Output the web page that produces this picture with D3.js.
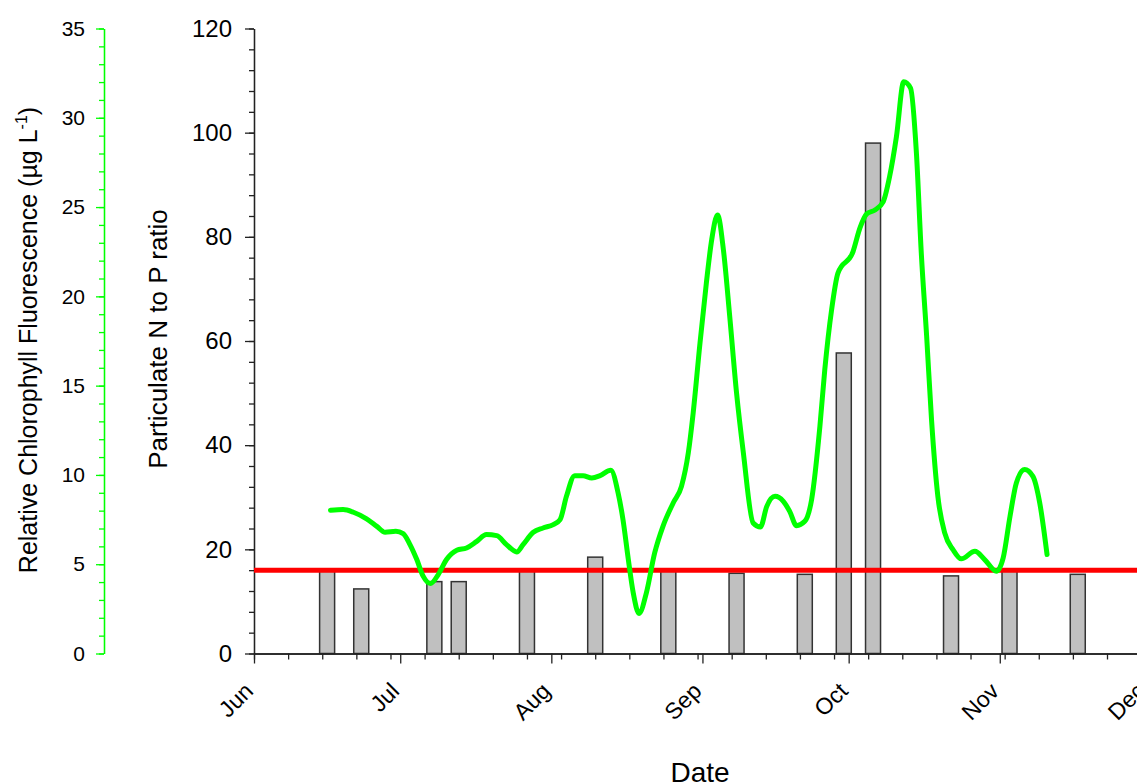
<!DOCTYPE html>
<html>
<head>
<meta charset="utf-8">
<script src="https://cdn.jsdelivr.net/npm/d3@7"></script>
<style>
  body { margin: 0; background: #fff; }
  svg text { font-family: "Liberation Sans", Arial, sans-serif; fill: #000; }
</style>
</head>
<body>
<div id="chart"></div>
<script>
// sample dates + particulate N:P (bars)
var npDates = ["2013-06-16","2013-06-23","2013-07-08","2013-07-13","2013-07-27","2013-08-10","2013-08-25",
               "2013-09-08","2013-09-22","2013-09-30","2013-10-06","2013-10-22","2013-11-03","2013-11-17"];
var npRatio = [16.0, 12.4, 13.8, 13.8, 16.0, 18.5, 16.0, 15.4, 15.2, 57.7, 98.0, 14.9, 16.0, 15.2];

// redfield ratio reference
var redfield = 16;

// chlorophyll fluorescence trace, days since 1 June
var chlDay = [15.7,18.3,20.4,23.1,25.2,26.9,29.1,30.6,32.0,33.4,34.7,36.2,37.8,39.5,41.6,43.6,45.7,47.7,49.8,51.8,
              53.9,55.2,57.3,59.3,61.4,62.8,64.1,65.8,67.5,69.3,71.0,73.2,74.7,75.7,76.8,77.8,79.0,80.5,82.2,83.9,
              86.0,87.7,89.1,90.1,91.5,92.8,93.9,95.1,96.3,97.6,99.0,100.4,102.4,103.9,105.2,106.9,108.6,109.9,111.3,113.0,
              114.4,116.1,117.1,118.5,119.8,122.9,124.3,125.7,127.4,129.1,130.4,131.8,133.3,134.7,135.9,136.9,138.0,139.0,140.3,141.7,
              143.4,145.1,147.9,149.9,152.3,153.7,155.1,156.4,158.1,159.8,161.2,162.7];
var chlVal = [8.02,8.06,7.91,7.54,7.12,6.79,6.84,6.71,6.10,5.26,4.33,3.92,4.42,5.26,5.78,5.91,6.28,6.66,6.60,6.10,
              5.69,6.10,6.79,7.03,7.22,7.50,8.80,9.96,9.96,9.83,9.96,10.26,8.99,7.50,5.26,3.40,2.24,3.40,5.63,7.12,
              8.43,9.36,11.23,13.47,17.39,20.74,23.17,24.56,22.61,18.87,14.59,11.23,7.31,7.09,8.24,8.80,8.52,7.96,7.16,7.40,
              8.62,12.72,15.89,19.25,21.30,22.51,23.82,24.62,24.84,25.31,26.71,28.95,32.02,31.66,28.02,22.42,17.76,13.09,8.80,6.75,
              5.82,5.30,5.72,5.26,4.61,5.36,7.68,9.55,10.30,9.92,8.43,5.54];

var monthLabels = ["Jun","Jul","Aug","Sep","Oct","Nov","Dec"];
var npTicks = [0, 20, 40, 60, 80, 100, 120];
var chlTicks = [0, 5, 10, 15, 20, 25, 30, 35];

var svgWidth = 1137, svgHeight = 782;
var x0 = 254, x1 = 1146, yTop = 28.5, yBot = 653.5;

var parse = d3.utcParse("%Y-%m-%d");
var start = parse("2013-06-01"), end = parse("2013-12-01");

var svg = d3.select("#chart").append("svg")
    .attr("width", svgWidth)
    .attr("height", svgHeight);

var x = d3.scaleUtc().domain([start, end]).range([x0, x1]);
var yNP = d3.scaleLinear().domain([0, 120]).range([yBot, yTop]);
var yChl = d3.scaleLinear().domain([0, 35]).range([yBot, yTop]);

// bars
var barW = 15;
svg.append("g").selectAll("rect")
    .data(npDates.map(function(d, i) { return {date: parse(d), v: npRatio[i]}; }))
    .enter().append("rect")
    .attr("x", function(d) { return x(d.date) - barW / 2; })
    .attr("y", function(d) { return yNP(d.v); })
    .attr("width", barW)
    .attr("height", function(d) { return yBot - yNP(d.v); })
    .attr("fill", "#c0c0c0")
    .attr("stroke", "#333")
    .attr("stroke-width", 1.5);

// x axis: weekly minor, monthly major
var weeks = d3.range(0, 183, 7).map(function(d) { return d3.utcDay.offset(start, d); });
svg.append("g")
    .attr("transform", "translate(0," + yBot + ")")
    .call(d3.axisBottom(x).tickValues(weeks).tickSize(6).tickSizeOuter(0).tickFormat(""))
    .call(function(g) { g.selectAll("path,line").attr("stroke", "#222").attr("stroke-width", 1.3); });
var months = d3.utcMonth.range(start, d3.utcDay.offset(end, 1));
var xAx = svg.append("g")
    .attr("transform", "translate(0," + yBot + ")")
    .call(d3.axisBottom(x).tickValues(months).tickSize(10).tickSizeOuter(0)
          .tickFormat(function(d, i) { return monthLabels[i]; }));
xAx.select(".domain").attr("stroke", "#222").attr("stroke-width", 1.3);
xAx.selectAll("line").attr("stroke", "#222").attr("stroke-width", 1.3);
xAx.selectAll("text")
    .attr("font-size", 23)
    .attr("text-anchor", "end")
    .attr("dy", 0)
    .attr("y", 0)
    .attr("transform", "translate(0,39) rotate(-45)");

// N:P axis
var npMinor = d3.range(0, 121, 4);
svg.append("g")
    .attr("transform", "translate(" + x0 + ",0)")
    .call(d3.axisLeft(yNP).tickValues(npMinor).tickSize(5).tickSizeOuter(0).tickFormat(""))
    .call(function(g) { g.selectAll("path,line").attr("stroke", "#222").attr("stroke-width", 1.3); });
var npAx = svg.append("g")
    .attr("transform", "translate(" + x0 + ",0)")
    .call(d3.axisLeft(yNP).tickValues(npTicks).tickSize(9).tickPadding(13).tickSizeOuter(0));
npAx.selectAll("path,line").attr("stroke", "#222").attr("stroke-width", 1.3);
npAx.selectAll("text").attr("font-size", 24);

// chlorophyll axis (green)
var chlX = 104;
svg.append("g")
    .attr("transform", "translate(" + chlX + ",0)")
    .call(d3.axisLeft(yChl).tickValues(d3.range(0, 36, 1)).tickSize(5).tickSizeOuter(0).tickFormat(""))
    .call(function(g) { g.selectAll("path,line").attr("stroke", "#00ff00").attr("stroke-width", 1.3); });
var chlAx = svg.append("g")
    .attr("transform", "translate(" + chlX + ",0)")
    .call(d3.axisLeft(yChl).tickValues(chlTicks).tickSize(8).tickPadding(11).tickSizeOuter(0));
chlAx.selectAll("path,line").attr("stroke", "#00ff00").attr("stroke-width", 1.3);
chlAx.selectAll("text").attr("font-size", 21);

// redfield line
svg.append("line")
    .attr("x1", x(start)).attr("x2", x(end))
    .attr("y1", yNP(redfield)).attr("y2", yNP(redfield))
    .attr("stroke", "#ff0000")
    .attr("stroke-width", 5);

// chlorophyll trace
var line = d3.line()
    .x(function(d) { return x(new Date(start.getTime() + d[0] * 864e5)); })
    .y(function(d) { return yChl(d[1]); })
    .curve(d3.curveMonotoneX);
svg.append("path")
    .datum(chlDay.map(function(d, i) { return [d, chlVal[i]]; }))
    .attr("d", line)
    .attr("fill", "none")
    .attr("stroke", "#00ff00")
    .attr("stroke-width", 5)
    .attr("stroke-linejoin", "round")
    .attr("stroke-linecap", "round");

// titles
var chlTitle = svg.append("text")
    .attr("transform", "translate(37,340) rotate(-90)")
    .attr("text-anchor", "middle")
    .attr("font-size", 25);
chlTitle.append("tspan").text("Relative Chlorophyll Fluorescence (\u00b5g L");
chlTitle.append("tspan").attr("dy", -10).attr("font-size", 16).text("-1");
chlTitle.append("tspan").attr("dy", 10).text(")");

svg.append("text")
    .attr("transform", "translate(167,339) rotate(-90)")
    .attr("text-anchor", "middle")
    .attr("font-size", 26)
    .text("Particulate N to P ratio");

svg.append("text")
    .attr("x", 700)
    .attr("y", 782)
    .attr("text-anchor", "middle")
    .attr("font-size", 28)
    .text("Date");
</script>
</body>
</html>
